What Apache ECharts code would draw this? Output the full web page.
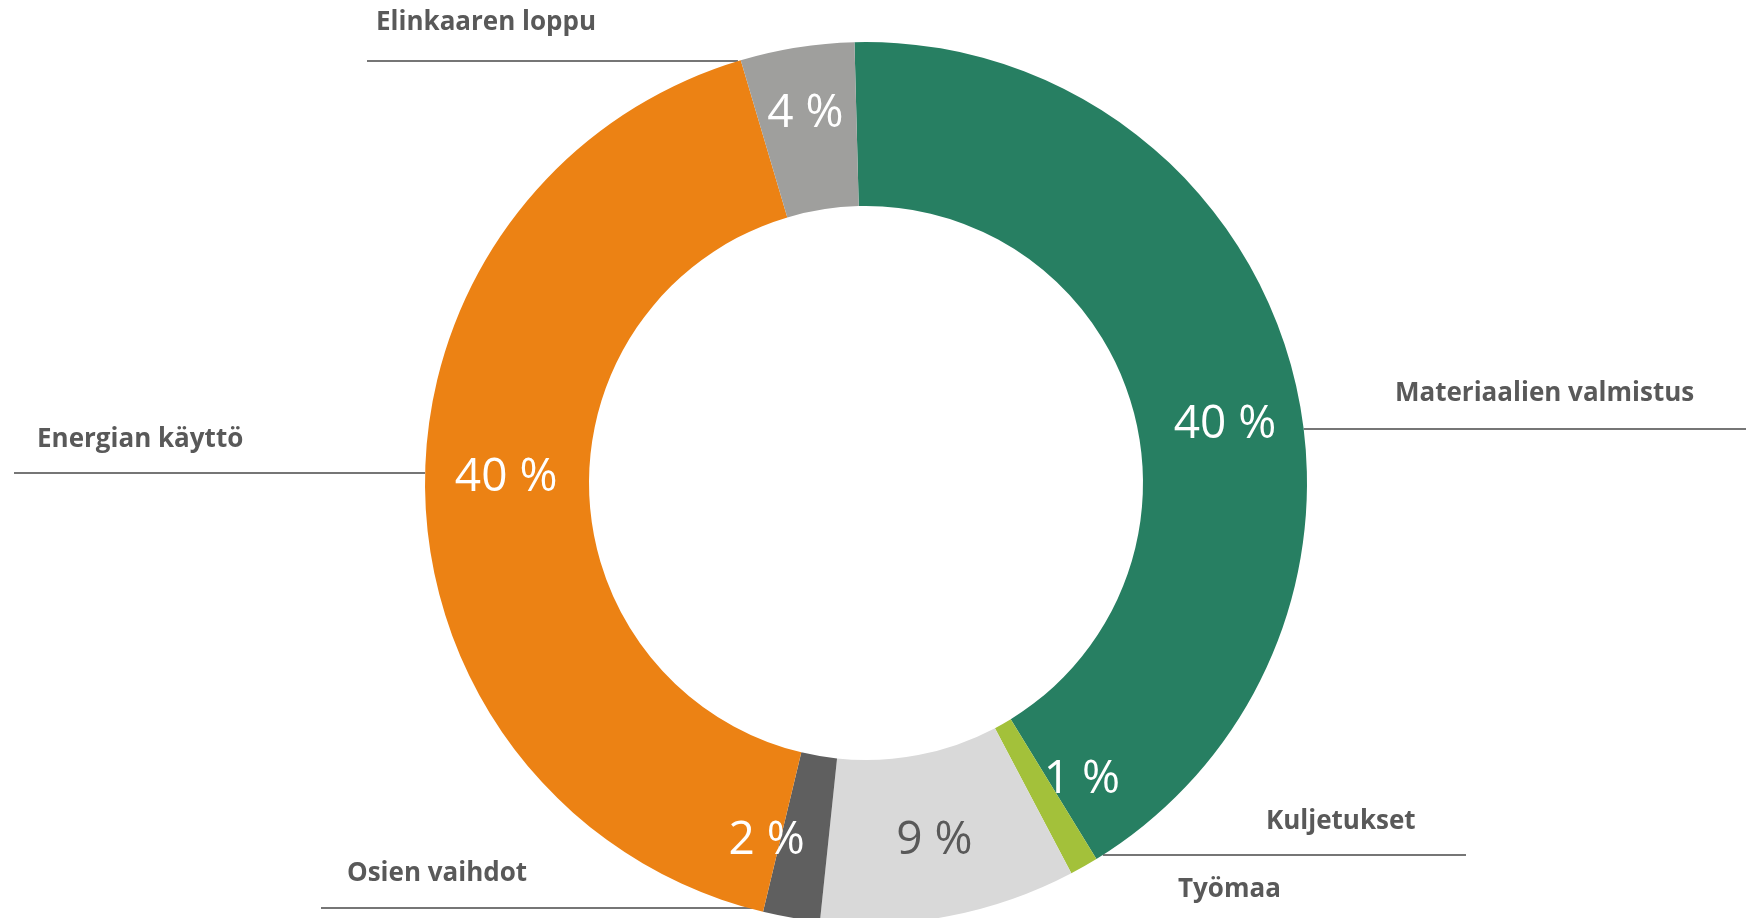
<!DOCTYPE html>
<html>
<head>
<meta charset="utf-8">
<script src="https://cdn.jsdelivr.net/npm/echarts@6/dist/echarts.min.js"></script>
<style>
  html, body { margin: 0; padding: 0; background: #ffffff; }
  #chart { width: 1746px; height: 918px; }
</style>
</head>
<body>
<div id="chart"></div>
<script>
// ---- data ----
const categories = ['Materiaalien valmistus', 'Kuljetukset', 'Työmaa', 'Osien vaihdot', 'Energian käyttö', 'Elinkaaren loppu'];
const values = [40, 1, 9, 2, 40, 4];

// ---- styles ----
const sliceColors = ['#277F62', '#A3C13A', '#D9D9D9', '#5F5F5F', '#EC8214', '#9F9F9D'];
const valueLabelColors = ['#ffffff', '#ffffff', '#595959', '#ffffff', '#ffffff', '#ffffff'];
const valueLabelNudge = [[12, 45], [37, -18], [0, 2], [-38, 1], [2, -15], [-4, -12]];
const CX = 866, CY = 483, R0 = 277, R1 = 441;
// outer category labels: text anchor (left, middle), horizontal line level and its ends
const nameLabelLayout = [
  { tx: 1395, ty: 394, lineY: 429, lineEnd: 1746, side: 1 },
  { tx: 1266, ty: 822, lineY: 855, lineEnd: 1466, side: 1 },
  { tx: 1178, ty: 890, lineY: null },
  { tx: 347, ty: 874, lineY: 908, lineEnd: 321, side: -1, lineStart: 763 },
  { tx: 37, ty: 440, lineY: 473, lineEnd: 14, side: -1 },
  { tx: 376, ty: 23, lineY: 61, lineEnd: 367, side: -1 }
];

const chart = echarts.init(document.getElementById('chart'), null, { renderer: 'canvas' });

const ringData = categories.map((name, i) => ({
  name: name,
  value: values[i],
  itemStyle: { color: sliceColors[i] },
  label: { color: valueLabelColors[i], offset: valueLabelNudge[i] }
}));

const nameData = categories.map((name, i) => ({
  name: name,
  value: values[i],
  labelLine: { show: nameLabelLayout[i].lineY !== null }
}));

chart.setOption({
  backgroundColor: '#ffffff',
  animation: false,
  series: [
    {
      type: 'pie',
      z: 3,
      center: [CX, CY],
      radius: [R0, R1],
      startAngle: 91.5,
      clockwise: true,
      avoidLabelOverlap: false,
      silent: true,
      label: {
        show: true,
        position: 'inside',
        formatter: '{c} %',
        fontFamily: 'Open Sans',
        fontSize: 46,
        fontWeight: 'normal'
      },
      labelLine: { show: false },
      itemStyle: { borderWidth: 0 },
      data: ringData
    },
    {
      type: 'pie',
      z: 1,
      center: [CX, CY],
      radius: [R0, R1],
      startAngle: 91.5,
      clockwise: true,
      avoidLabelOverlap: false,
      silent: true,
      itemStyle: { color: 'rgba(0,0,0,0)' },
      label: {
        show: true,
        position: 'outside',
        formatter: '{b}',
        fontFamily: 'Open Sans',
        fontSize: 26,
        fontWeight: 'bold',
        color: '#595959'
      },
      labelLine: {
        show: true,
        length: 10,
        length2: 10,
        lineStyle: { color: '#767676', width: 2 }
      },
      labelLayout: function (params) {
        const L = nameLabelLayout[params.dataIndex];
        const out = { x: L.tx, y: L.ty, align: 'left', verticalAlign: 'middle' };
        if (L.lineY !== null) {
          const dy = L.lineY - CY;
          const ringX = L.lineStart !== undefined ? L.lineStart
            : CX + L.side * Math.sqrt(Math.max(0, R1 * R1 - dy * dy));
          out.labelLinePoints = [[ringX, L.lineY], [ringX, L.lineY], [L.lineEnd, L.lineY]];
        }
        return out;
      },
      data: nameData
    }
  ]
});
</script>
</body>
</html>
